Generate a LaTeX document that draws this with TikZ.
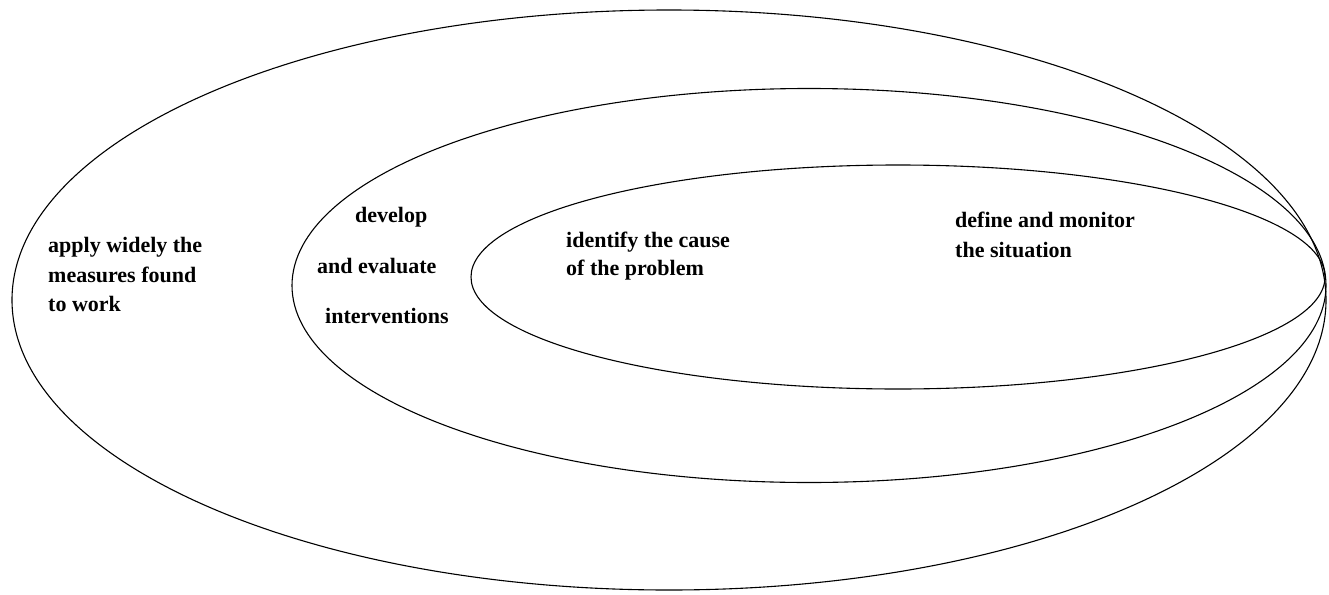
\documentclass[tikz,border=0pt]{standalone}
\usepackage{fontspec}
\setmainfont{Liberation Serif}
\begin{document}
\begin{tikzpicture}[x=1pt,y=-1pt,
  ring/.style={draw=black,line width=1.1pt},
  lbl/.style={anchor=base west,inner sep=0pt,font=\fontsize{22}{29}\selectfont\bfseries}]
\useasboundingbox (0,0) rectangle (1329,594);
% ellipses
\draw[ring] (669,300) ellipse [x radius=657pt, y radius=290pt];
\draw[ring] (809,285.5) ellipse [x radius=517pt, y radius=197pt];
\draw[ring] (898,277) ellipse [x radius=427pt, y radius=112pt];
% outer labels
\node[lbl] (o1) at (48,252) {apply widely the};
\node[lbl] (o2) at (48,282) {measures found};
\node[lbl] (o3) at (48,311) {to work};
% middle labels
\node[lbl] (m1) at (355,222) {develop};
\node[lbl] (m2) at (317,273) {and evaluate};
\node[lbl] (m3) at (325,323) {interventions};
% inner labels
\node[lbl] (i1) at (566,247) {identify the cause};
\node[lbl] (i2) at (566,275) {of the problem};
% innermost / right labels
\node[lbl] (r1) at (955,227) {define and monitor};
\node[lbl] (r2) at (955,257) {the situation};
\end{tikzpicture}
\end{document}
